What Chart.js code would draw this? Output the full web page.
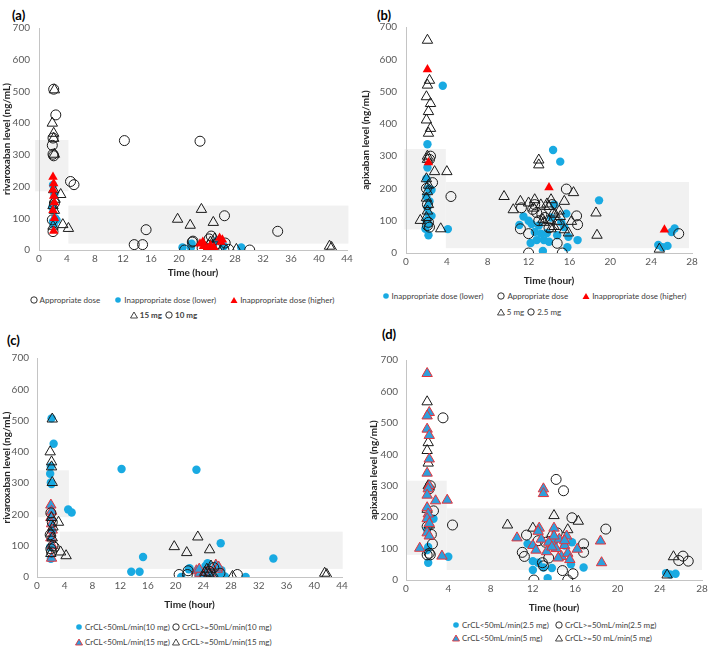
<!DOCTYPE html>
<html><head><meta charset="utf-8">
<script src="https://cdn.jsdelivr.net/npm/chart.js@4"></script>
<style>
body{margin:0;width:709px;height:649px;background:#fff;position:relative;overflow:hidden;font-family:Lato,'Open Sans',sans-serif;}
canvas{position:absolute;}
.lab{position:absolute;font-weight:bold;font-size:13px;color:#000;line-height:14px;}
.leg{position:absolute;font-size:8px;color:#404040;white-space:nowrap;display:flex;align-items:center;height:12px;}
.leg .it{display:inline-flex;align-items:center;}
.leg svg{margin-right:2px;}
</style></head><body>

<div class="lab" style="left:12px;top:8px">(a)</div>
<div class="lab" style="left:377px;top:8px">(b)</div>
<div class="lab" style="left:7px;top:333px">(c)</div>
<div class="lab" style="left:382px;top:327px">(d)</div>

<canvas id="ca" width="354" height="279" style="left:0;top:0"></canvas>
<canvas id="cb" width="355" height="287" style="left:354px;top:0"></canvas>
<canvas id="cc" width="354" height="286" style="left:0;top:325px"></canvas>
<canvas id="cd" width="355" height="289" style="left:354px;top:325px"></canvas>

<div id="legends"></div>

<script>
// ---------- tick / axis settings ----------
const rivaXMax = 44, apixXMax = 28, yMax = 700;
const xStep = 4, yStep = 100;

// ---------- therapeutic range boxes [x0, x1, y0, y1] ----------
const boxesA = [[-0.55, 4.2, 185, 347], [4.2, 44.2, 20, 140]];
const boxesB = [[-0.15, 3.9, 73, 322], [3.9, 27.7, 15, 220]];
const boxesC = [[0, 4.6, 191, 341], [3.3, 44.1, 26, 145]];
const boxesD = [[0, 3.85, 80, 316], [3.85, 28, 32, 228]];

// ---------- rivaroxaban points [time, level] (shared by panels a and c) ----------
const riva10CrclLow = [[2.1,507],[2.4,426],[2.0,353],[1.9,330],[2.0,302],[2.1,297],[4.5,216],[5.0,206],[2.2,148],[1.9,95],[2.0,58],[12.2,345],[13.6,17],[14.8,17],[15.3,64],[23.0,343],[26.5,108],[34.1,59],[20.8,0],[21.9,25],[23.3,6],[24.6,44],[26.6,22],[27.1,2],[30.1,0],[26.4,2],[24.3,35],[25.3,18],[22.0,28]];
const riva10CrclHigh = [[20.5,8],[21.7,8],[21.8,20],[28.9,8],[26.4,12],[25.5,30],[24.9,18],[2.0,90],[2.3,100],[1.9,135],[2.0,205],[2.2,175],[2.1,80],[2.5,95]];
const riva15CrclHigh = [[2.2,505],[1.9,400],[2.1,368],[2.1,352],[2.2,302],[3.1,175],[3.4,80],[4.2,68],[19.8,97],[21.6,78],[23.2,128],[24.9,87],[2.0,140],[2.2,125],[2.1,190],[41.5,12],[41.8,8],[24.5,25],[25.1,35],[24.2,15],[28.2,2],[25.5,5],[24.0,0],[24.8,10],[2.0,75],[2.3,160]];
const riva15CrclLow = [[2.0,230],[2.1,210],[2.0,190],[2.1,170],[2.2,150],[2.0,125],[2.1,60],[2.2,100],[23.0,20],[23.5,12],[24.0,5],[24.5,15],[25.8,38],[26.0,25],[23.4,25],[25.0,8],[26.2,32]];

// ---------- apixaban points, panel b (by dose appropriateness) ----------
const apixB5Appropriate = [[2.1,659],[2.3,535],[2.1,520],[2.0,484],[2.4,463],[2.2,438],[2.0,412],[2.4,386],[2.2,371],[2.1,300],[2.1,290],[2.0,230],[2.2,210],[2.1,190],[2.0,170],[2.2,150],[2.1,130],[2.0,110],[2.8,252],[4.0,252],[3.4,75],[1.4,101],[9.6,175],[10.5,134],[11.2,160],[13.0,288],[13.0,273],[12.6,165],[14.2,165],[15.5,160],[16.4,187],[18.6,124],[18.7,55],[24.8,12],[12.5,139],[13.4,103],[14.0,144],[14.5,82],[15.1,113],[15.5,72],[15.9,62],[14.8,98],[13.2,149],[16.2,98],[14.4,124],[13.8,152],[14.0,100],[14.2,75],[15.0,130],[12.0,155],[13.5,95],[14.6,120]];
const apixB5Higher = [[2.1,568],[2.2,280],[14.0,203],[25.3,72]];
const apixB25Lower = [[3.6,518],[2.1,337],[2.1,265],[2.0,230],[2.2,200],[2.5,195],[2.0,175],[2.3,160],[2.1,140],[2.2,120],[2.5,115],[2.0,100],[2.2,90],[1.9,75],[2.2,55],[4.1,74],[14.4,319],[15.1,283],[18.9,163],[11.1,87],[11.5,113],[12.0,100],[12.2,31],[12.6,65],[12.8,40],[13.0,85],[13.4,6],[13.5,40],[13.8,62],[14.0,35],[14.5,150],[14.8,55],[15.2,95],[15.5,80],[15.7,122],[15.8,18],[15.9,50],[16.8,40],[24.7,25],[25.1,18],[25.6,22],[26.0,65],[26.3,76],[12.3,90],[13.2,60],[14.2,110]];
const apixB25Appropriate = [[2.4,300],[2.3,290],[2.6,218],[2.2,95],[2.1,85],[2.3,80],[4.4,175],[11.3,140],[11.2,75],[12.0,60],[12.0,0],[12.4,135],[12.8,125],[13.0,100],[13.3,120],[14.3,150],[14.8,30],[15.3,0],[15.7,198],[16.7,115],[16.8,88],[26.7,60],[12.6,150],[13.6,110],[14.0,78],[15.0,88],[2.1,150],[2.0,200]];

// ---------- apixaban points, panel d (by renal function) ----------
const apixD5CrclLow = [[2.0,657],[2.2,533],[2.0,522],[2.0,480],[2.2,460],[2.2,385],[2.0,340],[2.2,300],[2.1,290],[2.0,270],[2.0,230],[2.1,210],[2.0,195],[2.2,180],[2.0,150],[2.2,140],[1.3,101],[2.8,252],[3.4,76],[3.9,254],[10.5,134],[13.0,290],[13.0,275],[12.6,165],[14.0,165],[12.0,110],[12.3,95],[12.8,130],[13.3,90],[13.5,120],[14.2,100],[14.5,130],[14.7,75],[15.0,110],[15.2,140],[15.3,85],[15.5,65],[16.2,98],[14.0,140],[14.4,70],[15.0,125],[18.4,124],[18.5,55],[12.5,155],[13.8,105]];
const apixD5CrclHigh = [[2.0,567],[2.1,437],[2.0,412],[2.1,372],[2.0,225],[2.2,175],[9.6,175],[12.0,165],[14.0,205],[13.8,148],[15.3,160],[16.3,187],[24.7,16],[25.3,74],[2.1,300]];
const apixD25CrclHigh = [[3.5,516],[2.3,300],[2.2,290],[2.6,220],[2.4,145],[2.5,115],[2.2,85],[2.3,80],[2.0,80],[4.4,175],[14.2,320],[14.9,284],[15.7,198],[18.9,162],[11.4,143],[11.0,88],[11.2,75],[12.1,0],[12.9,55],[13.0,45],[13.5,70],[14.3,150],[14.8,30],[15.3,0],[15.8,20],[16.8,115],[16.8,88],[12.5,125],[13.2,120],[25.8,62],[26.2,76],[26.7,60],[2.0,170]];
const apixD25CrclLow = [[2.1,55],[2.1,105],[2.2,200],[2.6,195],[2.0,160],[4.0,74],[11.5,115],[12.0,60],[12.0,32],[12.5,55],[13.0,40],[13.4,6],[13.8,38],[15.6,50],[15.7,120],[16.8,40],[24.6,22],[25.0,18],[25.5,20],[15.0,110],[14.0,120],[2.0,95]];

// ---------- legend labels ----------
const legendA = ['Appropriate dose', 'Inappropriate dose (lower)', 'Inappropriate dose (higher)'];
const legendA2 = ['15 mg', '10 mg'];
const legendB = ['Inappropriate dose (lower)', 'Appropriate dose', 'Inappropriate dose (higher)'];
const legendB2 = ['5 mg', '2.5 mg'];
const legendC = ['CrCL<50mL/min(10 mg)', 'CrCL>=50mL/min(10 mg)', 'CrCL<50mL/min(15 mg)', 'CrCL>=50mL/min(15 mg)'];
const legendD = ['CrCL<50mL/min(2.5 mg)', 'CrCL>=50mL/min(2.5 mg)', 'CrCL<50mL/min(5 mg)', 'CrCL>=50 mL/min(5 mg)'];

// ---------- styles ----------
const BLUE = '#19aae2', RED = '#ff0000', BLUE_T = '#2f9fdc', RED_B = '#e5333b', INK = '#1a1a1a';
const STY = {
  openCircle: {pointStyle:'circle', pointRadius:5, backgroundColor:'rgba(255,255,255,0)', borderColor:INK, borderWidth:1},
  blueCircle: {pointStyle:'circle', pointRadius:4.2, backgroundColor:BLUE, borderColor:BLUE, borderWidth:0},
  openTri: {pointStyle:'triangle', pointRadius:6, backgroundColor:'rgba(255,255,255,0)', borderColor:INK, borderWidth:1},
  redTri: {pointStyle:'triangle', pointRadius:5.5, backgroundColor:RED, borderColor:RED, borderWidth:0},
  blueRedTri: {pointStyle:'triangle', pointRadius:6, backgroundColor:BLUE_T, borderColor:RED_B, borderWidth:1}
};
function ds(label, pts, style, order){
  return Object.assign({label, data: pts.map(p=>({x:p[0], y:p[1]})), order, showLine:false}, STY[style]);
}

const boxPlugin = {
  id:'rangeBoxes',
  beforeDraw(chart, args, opts){
    const {ctx, scales:{x, y}} = chart;
    ctx.save(); ctx.fillStyle = '#f1f1f1';
    (opts.boxes||[]).forEach(b=>{
      const x0 = x.getPixelForValue(b[0]), x1 = x.getPixelForValue(b[1]);
      const y0 = y.getPixelForValue(b[3]), y1 = y.getPixelForValue(b[2]);
      ctx.fillRect(x0, y0, x1-x0, y1-y0);
    });
    ctx.restore();
  }
};

function makeChart(id, datasets, g){
  const tickFont = {family:'Lato', size:10};
  const titleFont = {family:'Lato', size:10, weight:'bold'};
  new Chart(document.getElementById(id), {
    type:'scatter',
    data:{datasets},
    plugins:[boxPlugin],
    options:{
      responsive:false, animation:false, devicePixelRatio:1,
      layout:{padding:{left:0, right:g.padR, top:g.padT, bottom:0}},
      plugins:{legend:{display:false}, tooltip:{enabled:false}, rangeBoxes:{boxes:g.boxes}},
      scales:{
        x:{type:'linear', min:0, max:g.xMax,
          ticks:{stepSize:xStep, color:'#595959', font:tickFont, padding:3, maxRotation:0, autoSkip:false},
          grid:{display:false, drawTicks:false}, border:{display:true, color:'#c4c4c4'},
          title:{display:true, text:'Time (hour)', color:'#262626', font:titleFont, padding:{top:0,bottom:0}},
          afterFit(s){ s.height = g.xH; s.paddingLeft = 0; s.paddingRight = 0; }
        },
        y:{type:'linear', min:0, max:yMax,
          ticks:{stepSize:yStep, color:'#595959', font:tickFont, padding:g.tickPad},
          grid:{display:false, drawTicks:false}, border:{display:true, color:'#c4c4c4'},
          title:{display:true, text:g.yTitle, color:'#262626', font:titleFont, padding:{top:g.titlePad,bottom:0}},
          afterFit(s){ s.width = g.yW; s.paddingTop = 0; s.paddingBottom = 0; }
        }
      }
    }
  });
}

makeChart('ca', [
  ds('Inappropriate dose (lower)', riva10CrclHigh, 'blueCircle', 4),
  ds('Appropriate dose 10 mg', riva10CrclLow, 'openCircle', 3),
  ds('Appropriate dose 15 mg', riva15CrclHigh, 'openTri', 2),
  ds('Inappropriate dose (higher)', riva15CrclLow, 'redTri', 1)
], {xMax:rivaXMax, yTitle:'rivaroxaban level (ng/mL)', boxes:boxesA, padR:4, padT:28, xH:29, yW:39, tickPad:9, titlePad:1});

makeChart('cb', [
  ds('Inappropriate dose (lower)', apixB25Lower, 'blueCircle', 4),
  ds('Appropriate dose 2.5 mg', apixB25Appropriate, 'openCircle', 3),
  ds('Appropriate dose 5 mg', apixB5Appropriate, 'openTri', 2),
  ds('Inappropriate dose (higher)', apixB5Higher, 'redTri', 1)
], {xMax:apixXMax, yTitle:'apixaban level (ng/mL)', boxes:boxesB, padR:17, padT:27, xH:34, yW:52, tickPad:9, titlePad:6});

makeChart('cc', [
  ds(legendC[0], riva10CrclLow, 'blueCircle', 4),
  ds(legendC[2], riva15CrclLow, 'blueRedTri', 3),
  ds(legendC[1], riva10CrclHigh, 'openCircle', 2),
  ds(legendC[3], riva15CrclHigh, 'openTri', 1)
], {xMax:rivaXMax, yTitle:'rivaroxaban level (ng/mL)', boxes:boxesC, padR:12, padT:33, xH:34, yW:37, tickPad:8, titlePad:1});

makeChart('cd', [
  ds(legendD[0], apixD25CrclLow, 'blueCircle', 4),
  ds(legendD[1], apixD25CrclHigh, 'openCircle', 3),
  ds(legendD[3], apixD5CrclHigh, 'openTri', 2),
  ds(legendD[2], apixD5CrclLow, 'blueRedTri', 1)
], {xMax:apixXMax, yTitle:'apixaban level (ng/mL)', boxes:boxesD, padR:7, padT:35, xH:34, yW:52, tickPad:8, titlePad:14});

// ---------- HTML legends ----------
function marker(kind, s){
  s = s || 8;
  const h = s/2;
  if (kind==='openCircle') return `<svg width="${s}" height="${s}"><circle cx="${h}" cy="${h}" r="${h-0.8}" fill="none" stroke="${INK}" stroke-width="0.9"/></svg>`;
  if (kind==='blueCircle') return `<svg width="${s}" height="${s}"><circle cx="${h}" cy="${h}" r="${h-1.2}" fill="${BLUE}"/></svg>`;
  if (kind==='redTri') return `<svg width="${s}" height="${s}"><polygon points="${h},1 ${s-0.5},${s-1} 0.5,${s-1}" fill="${RED}"/></svg>`;
  if (kind==='openTri') return `<svg width="${s}" height="${s}"><polygon points="${h},1 ${s-0.5},${s-1} 0.5,${s-1}" fill="none" stroke="${INK}" stroke-width="0.8"/></svg>`;
  if (kind==='blueRedTri') return `<svg width="${s}" height="${s}"><polygon points="${h},1 ${s-0.5},${s-1} 0.5,${s-1}" fill="${BLUE_T}" stroke="${RED_B}" stroke-width="0.9"/></svg>`;
}
function item(kind, text, gap){
  return `<span class="it" style="margin-right:${gap||0}px">${marker(kind)}${text}</span>`;
}
const L = document.getElementById('legends');
function row(html, style){ const d=document.createElement('div'); d.className='leg'; d.style.cssText=style; d.innerHTML=html; L.appendChild(d); }

row(item('openCircle',legendA[0],14)+item('blueCircle',legendA[1],14)+item('redTri',legendA[2]),
  'left:0;width:364px;justify-content:center;top:294px;');
row(item('openTri','<b>'+legendA2[0]+'</b>',3)+item('openCircle','<b>'+legendA2[1]+'</b>'),
  'left:0;width:327px;justify-content:center;top:309px;');
row(item('blueCircle',legendB[0],14)+item('openCircle',legendB[1],14)+item('redTri',legendB[2]),
  'left:354px;width:360px;justify-content:center;top:290px;');
row(item('openTri',legendB2[0],3)+item('openCircle',legendB2[1]),
  'left:354px;width:350px;justify-content:center;top:306px;');

row(item('blueCircle',legendC[0]), 'left:75px;top:621px;');
row(item('openCircle',legendC[1]), 'left:172px;top:621px;');
row(item('blueRedTri',legendC[2]), 'left:75px;top:636px;');
row(item('openTri',legendC[3]), 'left:172px;top:636px;');

row(item('blueCircle',legendD[0]), 'left:452px;top:619px;');
row(item('openCircle',legendD[1]), 'left:555px;top:619px;');
row(item('blueRedTri',legendD[2]), 'left:452px;top:632px;');
row(item('openTri',legendD[3]), 'left:555px;top:632px;');
</script>
</body></html>
